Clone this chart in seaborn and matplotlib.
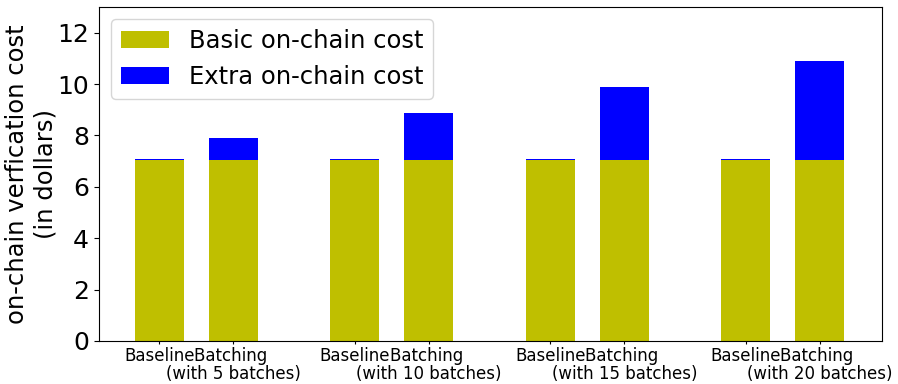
import numpy as np
import pandas as pd
import seaborn as sns
import matplotlib.pyplot as plt

# bar labels (Baseline / Batching pairs)
batches = [5, 10, 15, 20]
tick_labels = []
for b in batches:
    tick_labels += ["Baseline", "Batching \n(with %d batches)" % b]

# costs in dollars
basic_cost = [7.06, 7.06, 7.06, 7.06, 7.06, 7.06, 7.06, 7.06]
extra_cost = [0.03, 0.82, 0.03, 1.82, 0.03, 2.83, 0.03, 3.84]

group_gap = 2.64
pos = []
for i in range(len(batches)):
    pos += [i * group_gap, i * group_gap + 1]

data = pd.DataFrame({"pos": pos, "basic": basic_cost, "extra": extra_cost})
data["total"] = data.basic + data.extra

fig, ax = plt.subplots(figsize=(8.98, 3.84), dpi=100)
fig.subplots_adjust(left=0.110, right=0.982, bottom=0.112, top=0.982)

# stacked: draw total in blue, then basic on top in yellow
sns.barplot(data=data, x="pos", y="total", native_scale=True, width=0.66,
            color="b", saturation=1, errorbar=None, label="Extra on-chain cost", ax=ax)
sns.barplot(data=data, x="pos", y="basic", native_scale=True, width=0.66,
            color="y", saturation=1, errorbar=None, label="Basic on-chain cost", ax=ax)

ax.set_xticks(pos)
ax.set_xticklabels(tick_labels, fontsize=12)
for t in ax.get_xticklabels():
    t.set_linespacing(1.0)
ax.tick_params(axis="x", length=2.5, pad=2)
ax.set_xlim(pos[0] - 0.82, pos[-1] + 0.84)
ax.set_ylim(0, 13)
ax.set_yticks([0, 2, 4, 6, 8, 10, 12])
ax.tick_params(axis="y", labelsize=18)
ax.set_xlabel("")
ax.set_ylabel("on-chain verfication cost\n(in dollars)", fontsize=17.5, labelpad=0)

handles, labels = ax.get_legend_handles_labels()
ax.legend(handles[::-1], labels[::-1], loc="upper left", fontsize=17.5)

plt.savefig("out.png")
